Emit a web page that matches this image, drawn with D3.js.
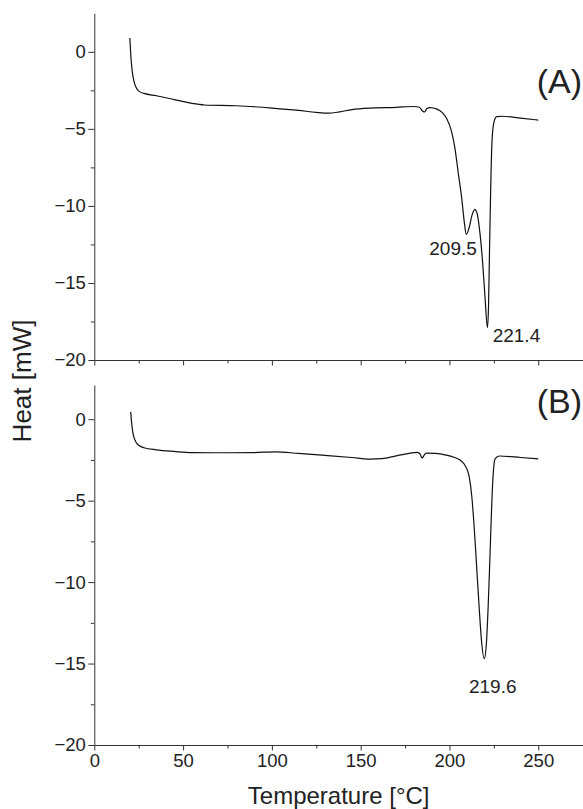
<!DOCTYPE html>
<html>
<head>
<meta charset="utf-8">
<script src="https://cdn.jsdelivr.net/npm/d3@7"></script>
<style>
html, body { margin: 0; padding: 0; background: #fff; }
svg { display: block; }
text { font-family: "Liberation Sans", Arial, sans-serif; fill: #222; }
</style>
</head>
<body>
<script>
// ---- Data ----
const tempA = [20, 20.6, 21.3, 22.3, 23.5, 25, 28, 35, 45, 55, 62, 80, 100, 115, 125, 132, 138, 145, 155, 170, 180, 183, 185, 186, 187.2, 189, 193, 196, 198.5, 201, 203, 205, 207, 208.3, 209.5, 211, 212.7, 214.3, 215.6, 217.2, 218.7, 220, 221.4, 222, 222.5, 223.2, 224, 225.1, 226.6, 230, 240, 250];
const heatA = [0.9, -0.3, -1.2, -1.9, -2.3, -2.55, -2.7, -2.85, -3.1, -3.35, -3.45, -3.5, -3.65, -3.8, -3.93, -3.98, -3.9, -3.75, -3.65, -3.6, -3.55, -3.6, -3.85, -3.9, -3.7, -3.62, -3.72, -3.95, -4.35, -5.1, -6.2, -7.9, -9.6, -11.0, -11.85, -11.45, -10.6, -10.22, -10.5, -11.8, -13.7, -15.9, -17.9, -16.5, -13.3, -9.0, -5.7, -4.54, -4.2, -4.18, -4.3, -4.43];

const tempB = [20.5, 21.0, 21.6, 22.3, 23.2, 25, 28, 35, 45, 55, 75, 90, 102, 115, 130, 145, 155, 162, 170, 178, 182, 183.5, 184.6, 185.8, 187, 192, 198, 203, 205.9, 209.2, 211.1, 212.6, 213.9, 215.2, 216.7, 218.0, 219.6, 220.8, 221.8, 222.8, 223.9, 224.8, 225.7, 228, 240, 250];
const heatB = [0.45, -0.2, -0.75, -1.1, -1.35, -1.6, -1.75, -1.88, -1.98, -2.05, -2.06, -2.05, -2.0, -2.1, -2.22, -2.35, -2.45, -2.42, -2.25, -2.08, -2.04, -2.15, -2.38, -2.2, -2.08, -2.1, -2.2, -2.35, -2.5, -2.92, -3.53, -4.76, -6.6, -8.85, -11.5, -13.55, -14.7, -13.76, -11.5, -8.44, -4.96, -3.12, -2.44, -2.26, -2.35, -2.44];

const peaksA = [{t: 209.5, label: "209.5"}, {t: 221.4, label: "221.4"}];
const peaksB = [{t: 219.6, label: "219.6"}];

const xMajorTicks = [0, 50, 100, 150, 200, 250];
const xMinorTicks = [25, 75, 125, 175, 225];
const yMajorTicks = [-20, -15, -10, -5, 0];
const yMinorTicks = [-17.5, -12.5, -7.5, -2.5];

const xDomain = [0, 275.2];
const yDomainA = [-20, 2.5];
const yDomainB = [-20, 2.1];

const panelLabels = ["(A)", "(B)"];
const xTitle = "Temperature [°C]";
const yTitle = "Heat [mW]";

// ---- Layout ----
const W = 583, H = 809;
const left = 94.3, right = 583;
const panels = [
  {top: 13.3, bottom: 360, domain: yDomainA, t: tempA, h: heatA, peaks: peaksA, labels: false, name: panelLabels[0]},
  {top: 385, bottom: 745, domain: yDomainB, t: tempB, h: heatB, peaks: peaksB, labels: true, name: panelLabels[1]}
];

const svg = d3.select("body").append("svg").attr("width", W).attr("height", H);
const x = d3.scaleLinear().domain(xDomain).range([left, right]);
const fs = 18.5;

panels.forEach((p, i) => {
  const y = d3.scaleLinear().domain(p.domain).range([p.bottom, p.top]);
  const g = svg.append("g");

  // x axis
  const xAx = d3.axisBottom(x).tickValues(xMajorTicks).tickSize(5.5).tickSizeOuter(0).tickPadding(3.5)
    .tickFormat(p.labels ? d3.format("d") : () => "");
  g.append("g").attr("transform", `translate(0,${p.bottom})`).call(xAx);
  const gxm = g.append("g").attr("transform", `translate(0,${p.bottom})`)
    .call(d3.axisBottom(x).tickValues(xMinorTicks).tickSize(3.5).tickSizeOuter(0).tickFormat(() => ""));
  gxm.select(".domain").remove();

  // y axis
  const yAx = d3.axisLeft(y).tickValues(yMajorTicks).tickSize(6).tickSizeOuter(0).tickPadding(2.5).tickFormat(d3.format("d"));
  g.append("g").attr("transform", `translate(${left},0)`).call(yAx);
  const gym = g.append("g").attr("transform", `translate(${left},0)`)
    .call(d3.axisLeft(y).tickValues(yMinorTicks).tickSize(3.5).tickSizeOuter(0).tickFormat(() => ""));
  gym.select(".domain").remove();

  g.selectAll(".tick text").style("font-size", fs + "px").attr("fill", "#222")
    .style("font-family", '"Liberation Sans", Arial, sans-serif');
  g.selectAll(".domain, .tick line").attr("stroke", "#333").attr("stroke-width", 1);

  // curve
  const data = p.t.map((t, k) => [t, p.h[k]]);
  g.append("path").datum(data)
    .attr("fill", "none").attr("stroke", "#111").attr("stroke-width", 1.2)
    .attr("d", d3.line().x(d => x(d[0])).y(d => y(d[1])).curve(d3.curveMonotoneX));

  // peak labels
  p.peaks.forEach((pk, j) => {
    const k = p.t.indexOf(pk.t);
    const yv = p.h[k];
    let tx, ty, anchor;
    if (i === 0 && j === 0) { tx = x(pk.t) + 10.5; ty = y(yv) + 20.6; anchor = "end"; }
    else if (i === 0 && j === 1) { tx = x(pk.t) + 5.2; ty = y(yv) + 14.5; anchor = "start"; }
    else { tx = x(pk.t) + 8.5; ty = y(yv) + 34.5; anchor = "middle"; }
    g.append("text").attr("x", tx).attr("y", ty).attr("text-anchor", anchor)
      .style("font-size", "19px").text(pk.label);
  });

  // panel label
  g.append("text").attr("x", right - 1).attr("y", i === 0 ? 93 : 413)
    .attr("text-anchor", "end").style("font-size", "34px").text(p.name);
});

// axis titles
svg.append("text").attr("x", (left + right) / 2).attr("y", 804)
  .attr("text-anchor", "middle").style("font-size", "24px").text(xTitle);
svg.append("text").attr("transform", `translate(31,381) rotate(-90)`)
  .attr("text-anchor", "middle").style("font-size", "26px").text(yTitle);
</script>
</body>
</html>
